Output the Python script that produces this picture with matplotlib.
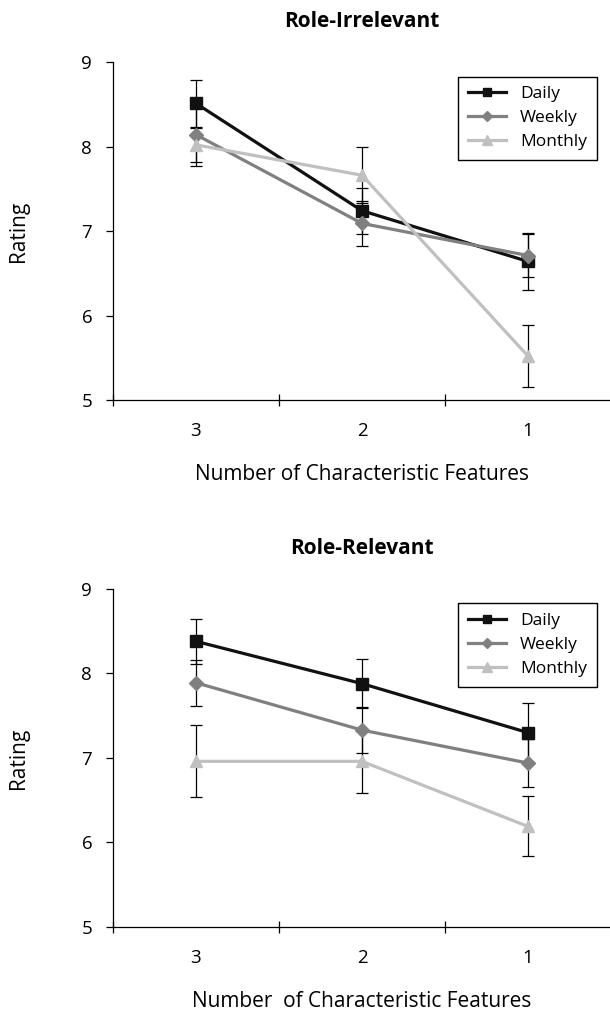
import numpy as np
import matplotlib.pyplot as plt

plt.rcParams['font.family'] = ['Open Sans', 'DejaVu Sans']

categories = ['3', '2', '1']
series = ['Daily', 'Weekly', 'Monthly']

# role-irrelevant ratings and error bars
irr_daily = [8.51, 7.24, 6.64]
irr_weekly = [8.14, 7.09, 6.71]
irr_monthly = [8.02, 7.66, 5.52]
irr_daily_err = [0.28, 0.27, 0.34]
irr_weekly_err = [0.37, 0.27, 0.25]
irr_monthly_err = [0.20, 0.33, 0.37]

# role-relevant ratings and error bars
rel_daily = [8.38, 7.88, 7.30]
rel_weekly = [7.89, 7.33, 6.94]
rel_monthly = [6.96, 6.96, 6.19]
rel_daily_err = [0.265, 0.29, 0.35]
rel_weekly_err = [0.27, 0.27, 0.28]
rel_monthly_err = [0.425, 0.37, 0.355]

colors = ['#111111', '#808080', '#c0c0c0']
markers = ['s', 'D', '^']
msizes = [8, 7, 9]


def draw_panel(ax, vals, errs, title, xlabel):
    x = np.arange(1, len(categories) + 1)
    for v, e in zip(vals, errs):
        ax.errorbar(x, v, yerr=e, fmt='none', ecolor='black', elinewidth=0.9,
                    capsize=4, capthick=0.9, zorder=2)
    for v, name, c, m, ms in zip(vals, series, colors, markers, msizes):
        ax.plot(x, v, color=c, marker=m, markersize=ms, linewidth=2.3,
                label=name, zorder=3)

    ax.set_xlim(0.5, 3.5)
    ax.set_ylim(5, 9)
    ax.set_yticks([5, 6, 7, 8, 9])
    ax.set_xticks([0.5, 1.5, 2.5, 3.5])
    ax.set_xticklabels([])
    ax.set_xticks(x, minor=True)
    ax.set_xticklabels(categories, minor=True)
    ax.tick_params(axis='x', which='major', direction='inout', length=9, width=0.9)
    ax.tick_params(axis='x', which='minor', length=0, pad=16, labelsize=13.5)
    ax.tick_params(axis='y', direction='out', length=5, width=0.9, pad=10, labelsize=13.5)
    for s in ['top', 'right']:
        ax.spines[s].set_visible(False)
    for s in ['left', 'bottom']:
        ax.spines[s].set_linewidth(0.9)
    ax.spines['bottom'].set_clip_on(False)

    ax.set_title(title, fontsize=15, fontweight='bold', pad=25)
    ax.set_xlabel(xlabel, fontsize=15, labelpad=17)
    ax.set_ylabel('Rating', fontsize=15, labelpad=38)

    leg = ax.legend(loc='upper right', bbox_to_anchor=(0.971, 0.957), borderaxespad=0,
                    fancybox=False, edgecolor='black', fontsize=12.5, handlelength=2.2,
                    borderpad=0.55, labelspacing=0.45, handletextpad=0.8,
                    markerscale=0.75, framealpha=1)
    leg.get_frame().set_linewidth(1.0)


fig = plt.figure(figsize=(6.1, 10.13), dpi=100)
ax1 = fig.add_axes([0.1852, 0.6051, 0.8164, 0.3337])
ax2 = fig.add_axes([0.1852, 0.0849, 0.8164, 0.3337])

draw_panel(ax1, [irr_daily, irr_weekly, irr_monthly],
           [irr_daily_err, irr_weekly_err, irr_monthly_err],
           'Role-Irrelevant', 'Number of Characteristic Features')
draw_panel(ax2, [rel_daily, rel_weekly, rel_monthly],
           [rel_daily_err, rel_weekly_err, rel_monthly_err],
           'Role-Relevant', 'Number  of Characteristic Features')

fig.savefig('out.png', dpi=100)
